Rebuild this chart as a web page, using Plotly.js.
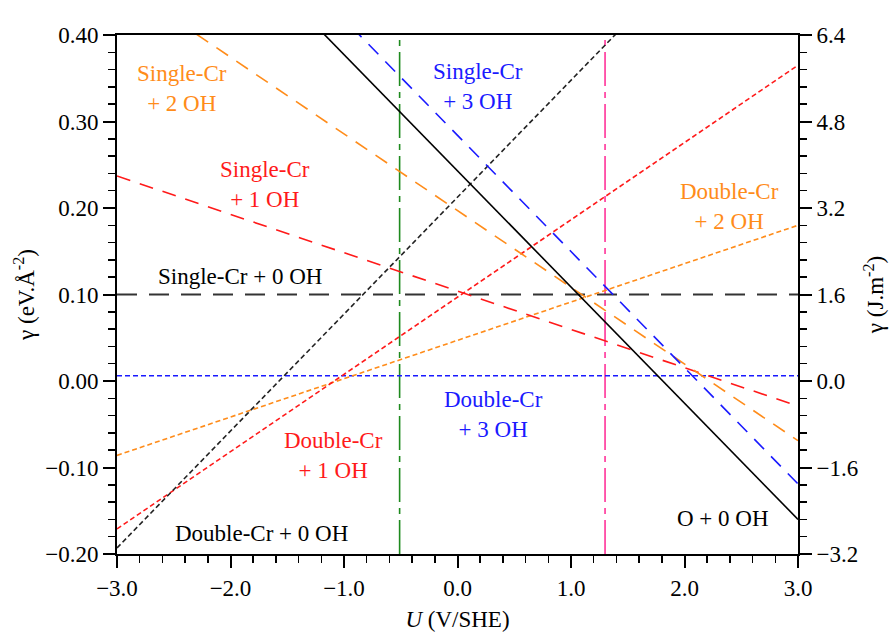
<!DOCTYPE html>
<html>
<head>
<meta charset="utf-8">
<script src="https://cdn.plot.ly/plotly-3.0.1.min.js"></script>
<style>html,body{margin:0;padding:0;background:#fff}#chart{width:896px;height:637px}</style>
</head>
<body>
<div id="chart"></div>
<script>
// Potential range (V/SHE) at which each line is evaluated
const U = [-3.0, 3.0];
// Surface energy gamma (eV/Å^2) at U = -3 and U = +3
const singleCr0OH = [0.100, 0.100];
const singleCr1OH = [0.237, -0.029];
const singleCr2OH = [0.463, -0.069];
const singleCr3OH = [0.687, -0.119];
const doubleCr0OH = [-0.193, 0.618];
const doubleCr1OH = [-0.171, 0.365];
const doubleCr2OH = [-0.086, 0.180];
const doubleCr3OH = [0.006, 0.006];
const o0OH = [0.646, -0.160];
// Reference potentials
const crEquilibriumU = -0.51;
const waterElectrolysisU = 1.3;
const yRange = [-0.2, 0.4];
const y2Range = [-3.2, 6.4];

const ORANGE = '#FF8C1A', RED = '#FF1A1A', BLUE = '#1A1AFF', GREEN = '#1E8A1E', PINK = '#FF3399', BLACK = '#000000';
const FONT = "'Liberation Serif', 'Times New Roman', serif";
const FS = 23;

function line(y, color, dash, width) {
  return {x: U, y: y, mode: 'lines', line: {color: color, dash: dash, width: width}, showlegend: false, hoverinfo: 'skip'};
}
function vline(u, color, dash) {
  return {x: [u, u], y: yRange, mode: 'lines', line: {color: color, dash: dash, width: 1.6}, showlegend: false, hoverinfo: 'skip'};
}

const traces = [
  vline(crEquilibriumU, GREEN, '34px,6px,6px,6px'),
  vline(waterElectrolysisU, PINK, '34px,6px,6px,6px'),
  line(singleCr0OH, '#333333', '20px,12px', 1.8),
  line(doubleCr3OH, BLUE, '5px,3px', 1.6),
  line(doubleCr2OH, ORANGE, '5px,3px', 1.6),
  line(doubleCr1OH, RED, '5px,3px', 1.6),
  line(doubleCr0OH, '#222222', '5px,3px', 1.6),
  line(singleCr1OH, RED, '14px,10px', 1.6),
  line(singleCr2OH, ORANGE, '14px,10px', 1.6),
  line(singleCr3OH, BLUE, '14px,10px', 1.6),
  line(o0OH, BLACK, 'solid', 1.6),
  {x: U, y: y2Range, yaxis: 'y2', mode: 'lines', line: {width: 0, color: 'rgba(0,0,0,0)'}, showlegend: false, hoverinfo: 'skip'}
];

function ann(x, y, text, color) {
  return {x: x, y: y, xref: 'x', yref: 'y', text: text, showarrow: false, align: 'center',
          font: {family: FONT, size: FS, color: color}};
}

const annotations = [
  ann(-2.43, 0.338, 'Single-Cr<br>+ 2 OH', ORANGE),
  ann(-1.70, 0.227, 'Single-Cr<br>+ 1 OH', RED),
  ann(0.18, 0.340, 'Single-Cr<br>+ 3 OH', BLUE),
  ann(2.40, 0.2015, 'Double-Cr<br>+ 2 OH', ORANGE),
  ann(-1.92, 0.121, 'Single-Cr + 0 OH', BLACK),
  ann(0.32, -0.039, 'Double-Cr<br>+ 3 OH', BLUE),
  ann(-1.09, -0.086, 'Double-Cr<br>+ 1 OH', RED),
  ann(-1.73, -0.176, 'Double-Cr + 0 OH', BLACK),
  ann(2.34, -0.159, 'O + 0 OH', BLACK),
  {x: -0.906, y: 0.4215, xref: 'x', yref: 'y', text: 'Cr/Cr<sub>2</sub>O<sub>3</sub> equilibrium', showarrow: false,
   font: {family: FONT, size: FS, color: GREEN}},
  {x: 1.79, y: 0.4215, xref: 'x', yref: 'y', text: 'Water electrolysis', showarrow: false,
   font: {family: FONT, size: FS, color: PINK}}
];

const axisCommon = {
  showgrid: false, zeroline: false, showline: true, linecolor: '#000', linewidth: 2,
  ticks: 'outside', ticklen: 12, tickwidth: 2, tickcolor: '#000',
  tickfont: {family: FONT, size: FS, color: '#000'}
};

const layout = {
  width: 896, height: 637,
  margin: {l: 117, r: 98, t: 35, b: 83},
  paper_bgcolor: '#fff', plot_bgcolor: '#fff',
  font: {family: FONT, color: '#000'},
  xaxis: Object.assign({}, axisCommon, {
    range: [-3, 3], tick0: -3, dtick: 1, tickformat: '.1f', mirror: true,
    minor: {dtick: 0.2, ticklen: 7, tickwidth: 1.5, tickcolor: '#000', ticks: 'outside'},
    title: {text: '<i>U</i> (V/SHE)', font: {family: FONT, size: FS}, standoff: 11}
  }),
  yaxis: Object.assign({}, axisCommon, {
    range: yRange, tick0: 0, dtick: 0.1, tickformat: '.2f',
    minor: {dtick: 0.02, ticklen: 7, tickwidth: 1.5, tickcolor: '#000', ticks: 'outside'},
    title: {text: 'γ (eV.Å<sup>-2</sup>)', font: {family: FONT, size: FS}, standoff: 4}
  }),
  yaxis2: Object.assign({}, axisCommon, {
    range: y2Range, tick0: 0, dtick: 1.6, tickformat: '.1f', overlaying: 'y', side: 'right',
    minor: {dtick: 0.32, ticklen: 7, tickwidth: 1.5, tickcolor: '#000', ticks: 'outside'},
    title: {text: 'γ (J.m<sup>-2</sup>)', font: {family: FONT, size: FS}, standoff: 10}
  }),
  annotations: annotations
};

Plotly.newPlot('chart', traces, layout, {staticPlot: true, displayModeBar: false});
</script>
</body>
</html>
